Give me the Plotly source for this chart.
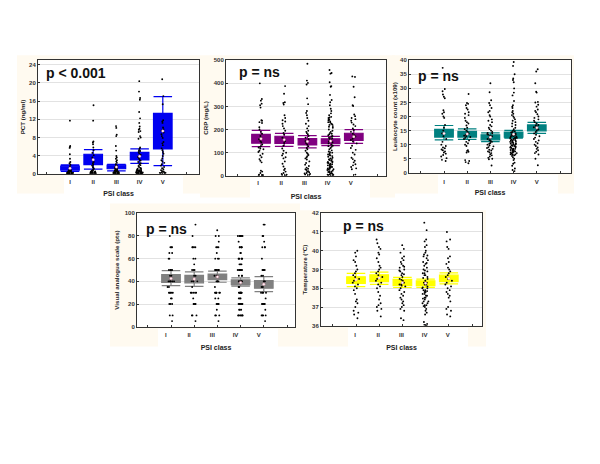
import plotly.graph_objects as go

CLASSES = ['I', 'II', 'III', 'IV', 'V']

# PCT (ng/ml)
pct_i = [11.7, 6.1, 5.9, 5.7, 4.3, 3.3, 2.6, 2.3, 2.0, 1.6, 1.3, 1.1, 1.0, .9, .8, .7, .7, .6, .6, .5, .5, .5, .4, .4,
         .4, .4, .3, .3, .3, .3, .3, .2, .2, .2, .2, .2, .2, .1, .1, .1, .1, .1, .1, .1, .1, .1, .1]
pct_ii = [15.1, 11.7, 7.1, 6.9, 6.5, 5.8, 5.2, 4.6, 4.1, 3.6, 3.2, 2.9, 2.6, 2.3, 2.0, 1.8, 1.5, 1.3, 1.1, .9, .8, .7,
          .6, .5, .5, .4, .4, .3, .3, .3, .2, .2, .2, .2, .1, .1, .1, .1, .1]
pct_iii = [10.5, 10.1, 8.6, 8.3, 6.1, 5.1, 3.9, 3.6, 3.3, 3.0, 2.7, 2.4, 2.1, 1.9, 1.7, 1.6, 1.5, 1.4, 1.3, 1.2, 1.1,
           1.0, .9, .8, .8, .7, .6, .6, .5, .5, .4, .4, .4, .3, .3, .3, .2, .2, .2, .2, .1, .1, .1, .1, .1, .1, .1, .1]
pct_iv = [20.4, 18.1, 16.7, 16.3, 13.6, 12.2, 11.2, 10.4, 9.9, 9.7, 9.4, 9.2, 8.3, 8.0, 7.7, 5.8, 5.5, 5.2, 5.0, 4.8,
          4.5, 4.2, 3.9, 3.7, 3.4, 3.1, 2.9, 2.6, 2.3, 2.1, 1.9, 1.7, 1.5, 1.3, 1.2, 1.1, 1.0, .9, .8, .8, .7, .7, .6,
          .6, .5, .5, .5, .4, .4, .4, .3, .3, .3, .3, .2, .2, .2, .2, .2, .1, .1, .1, .1, .1, .1, .1, .1]
pct_v = [20.8, 17.1, 15.3, 11.8, 11.5, 11.2, 10.2, 9.8, 9.5, 9.1, 8.7, 8.3, 7.9, 7.0, 6.7, 6.3, 5.6, 5.2, 4.8, 4.4,
         3.9, 3.4, 3.0, 2.7, 2.4, 2.1, 1.8, 1.5, 1.2, 1.0, .8, .6, .5, .4, .3, .3, .2, .2, .1, .1]
pct_mean = [1.2, 3.1, 1.5, 3.85, 9.4]
pct_box_low = [0.8, 2.0, 1.1, 3.05, 5.45]
pct_box_high = [1.67, 4.3, 1.9, 4.7, 13.3]
pct_whisker_low = [0.5, 1.0, 0.65, 2.3, 1.8]
pct_whisker_high = [1.95, 5.3, 2.1, 5.5, 17.0]

# CRP (mg/L)
crp_i = [400, 332, 325, 312, 305, 295, 240, 238, 232, 228, 210, 200, 190, 182, 172, 165, 158, 150, 145, 135, 128, 125,
         122, 118, 115, 108, 103, 95, 88, 80, 72, 65, 58, 22, 18, 12, 5, 3, 2, 1]
crp_ii = [388, 355, 318, 315, 308, 262, 250, 240, 235, 225, 215, 205, 195, 185, 178, 165, 160, 155, 150, 142, 130, 118,
          108, 100, 95, 88, 80, 75, 62, 52, 40, 30, 25, 18, 12, 8, 5, 3, 1]
crp_iii = [485, 412, 402, 395, 335, 310, 280, 272, 262, 250, 238, 225, 215, 205, 195, 190, 185, 180, 172, 165, 158,
           150, 142, 135, 128, 120, 115, 108, 100, 95, 90, 85, 80, 75, 70, 62, 55, 48, 42, 35, 30, 28, 25, 20, 18, 15,
           12, 10, 8, 5, 3]
crp_iv = [458, 445, 442, 405, 388, 385, 350, 328, 318, 305, 290, 280, 270, 262, 255, 250, 245, 240, 235, 230, 225, 220,
          215, 208, 200, 195, 190, 185, 180, 175, 170, 165, 160, 155, 150, 145, 140, 135, 130, 125, 120, 115, 110, 105,
          100, 95, 92, 88, 85, 82, 78, 75, 72, 68, 65, 62, 60, 58, 55, 52, 50, 48, 45, 42, 40, 38, 35, 32, 30, 28, 25,
          22, 20, 18, 15, 12, 10, 8, 5, 3, 2, 1, 252, 242, 232, 222, 212, 182, 172, 162, 148, 128, 102, 90, 70, 56, 47,
          36, 27, 16, 6]
crp_v = [430, 428, 385, 340, 305, 302, 265, 258, 250, 245, 238, 230, 222, 215, 205, 198, 190, 182, 175, 170, 165, 160,
         155, 148, 140, 130, 120, 112, 100, 92, 78, 72, 65, 58, 50, 45, 38, 32, 28, 5]
crp_mean = [160, 156, 148, 150, 169]
crp_box_low = [141, 140, 133, 139, 153]
crp_box_high = [179, 171, 161, 160, 184]
crp_whisker_low = [126, 127, 121, 130, 140]
crp_whisker_high = [196, 183, 174, 170, 200]

# Leukocyte count (x109)
wbc_i = [37.3, 29.8, 29, 27.8, 27, 26.5, 22.2, 21.5, 21, 20, 19.5, 17, 16, 15, 14, 13, 12, 11, 10, 9.5, 9, 8.7, 8.3,
         8, 7.6, 7.2, 6.8, 6.3, 5.8, 5.2, 4.6, 4.2]
wbc_ii = [28, 24.8, 24.5, 24, 23, 22.5, 21.5, 21, 20.5, 19.5, 18.5, 18, 17.5, 16.8, 16, 15.5, 15, 14.5, 14, 13.8, 13.5,
          13.2, 13, 12.7, 12.4, 12, 11.5, 11, 10.5, 10, 9.5, 8, 7.8, 7.5, 7.2, 4.5, 4.2, 3.8, 3.4]
wbc_iii = [31.8, 28.6, 25.8, 24.8, 24, 23, 22, 21.5, 20.5, 20, 19, 18.5, 18, 17, 16.5, 16, 15.5, 15, 14.5, 14.2, 14,
           13.8, 13.5, 13.2, 13, 12.5, 12.2, 12, 11.6, 11.3, 11, 10.6, 10.3, 10, 9.7, 9.4, 9.1, 8.8, 8.5, 8.2, 7.9,
           7.6, 7.3, 7, 6.6, 6.2, 5.8, 5.3, 5, 4.8, 2.6]
wbc_iv = [39.4, 38, 35, 33.5, 33, 32.2, 30, 28.5, 27.5, 25.5, 24, 23.5, 23, 22, 21.5, 21, 20.5, 20, 19.5, 19, 18.5,
          18, 17.5, 17, 16.5, 16, 15.5, 15, 14.8, 14.5, 14.3, 14, 13.8, 13.6, 13.4, 13.2, 13, 12.8, 12.6, 12.4, 12.2,
          12, 11.8, 11.6, 11.4, 11.2, 11, 10.8, 10.6, 10.4, 10.2, 10, 9.8, 9.6, 9.4, 9.2, 9, 8.8, 8.6, 8.4, 8.2, 8,
          7.8, 7.6, 7.4, 7.2, 7, 6.8, 6.6, 6.4, 6.2, 6, 5.5, 5, 4.5, 3.6, 3.2, 2.5, 1.5, 1, 0.6, 13.5, 13.1, 12.5,
          12.1, 11.5, 11.1, 10.5, 10.1, 9.5, 9.1, 8.5, 8.1, 7.5, 7.1, 6.5]
wbc_v = [36.8, 36, 31.8, 28.8, 28.5, 25.2, 25, 24.2, 23.5, 22.5, 22, 21.5, 20.8, 20, 19.5, 19, 18.5, 18, 17.5, 17,
         16.8, 16.5, 16.2, 16, 15.7, 15.4, 15, 14.5, 14, 13.5, 13, 12.5, 12, 11.5, 11, 10.5, 10, 9.5, 9, 8.5, 8, 7.5,
         7, 6.5, 5, 2.7]
wbc_mean = [14, 13.8, 12.6, 13.7, 16]
wbc_box_low = [12.7, 12.7, 11.7, 12.7, 14.9]
wbc_box_high = [15.4, 14.7, 13.5, 14.5, 17]
wbc_whisker_low = [11.7, 11.9, 11.1, 12.3, 14]
wbc_whisker_high = [16.8, 15.6, 14.2, 15.1, 17.9]

# Visual analogue scale (pts)
vas_i = [80, 70, 70, 70, 65, 65, 60, 60, 50, 50, 50, 50, 50, 45, 45, 40, 40, 40, 40, 40, 40, 35, 35, 30, 30, 30, 30,
         30, 25, 25, 20, 20, 20, 10, 10, 5]
vas_ii = [90, 80, 70, 70, 70, 70, 60, 60, 55, 50, 50, 50, 45, 45, 40, 40, 40, 40, 35, 30, 30, 30, 30, 30, 25, 20, 20,
          20, 20, 10, 10, 10, 5]
vas_iii = [85, 80, 80, 75, 70, 70, 70, 65, 60, 60, 60, 50, 50, 50, 50, 50, 50, 45, 45, 45, 40, 40, 40, 40, 35, 30, 30,
           30, 30, 30, 30, 25, 25, 20, 20, 20, 20, 15, 10, 10, 10, 5]
vas_iv = [80, 80, 80, 80, 80, 80, 75, 70, 70, 70, 70, 70, 65, 65, 60, 60, 60, 60, 60, 60, 55, 55, 55, 50, 50, 50, 50,
          50, 50, 50, 50, 45, 45, 45, 40, 40, 40, 40, 40, 40, 40, 40, 35, 35, 30, 30, 30, 30, 30, 30, 30, 30, 25, 25,
          25, 20, 20, 20, 20, 20, 20, 20, 15, 15, 15, 10, 10, 10, 10, 10, 10, 10]
vas_v = [90, 90, 80, 80, 75, 70, 70, 70, 60, 50, 50, 50, 50, 50, 45, 45, 40, 40, 40, 35, 35, 30, 30, 30, 30, 25, 20,
         20, 20, 20, 20, 20, 15, 10, 10, 10, 10, 5]
vas_mean = [42.5, 42, 44, 39, 37.5]
vas_box_low = [39, 38.7, 41.6, 37.2, 34]
vas_box_high = [46, 45.3, 46.5, 41.3, 40.7]
vas_whisker_low = [36.3, 35.5, 39.2, 35.8, 31]
vas_whisker_high = [49.4, 48.3, 49, 43, 44.2]

# Temperature
temp_i = [40, 39.9, 39.7, 39.5, 39.4, 39.2, 39, 38.9, 38.8, 38.7, 38.6, 38.5, 38.4, 38.3, 38.2, 38.1, 38, 37.9, 37.7,
          37.4, 37.3, 37.2, 37, 36.8, 36.7, 36.6, 36.4]
temp_ii = [40.6, 40.4, 40.2, 40.1, 39.9, 39.8, 39.6, 39.4, 39.2, 39.1, 39, 38.9, 38.8, 38.7, 38.6, 38.5, 38.4, 38.3,
           38.2, 38.1, 38, 37.8, 37.6, 37.4, 37.2, 37.1, 37, 36.9, 36.8, 36.5]
temp_iii = [40.3, 40.1, 39.9, 39.7, 39.6, 39.5, 39.4, 39.3, 39.2, 39.1, 39, 38.9, 38.8, 38.7, 38.6, 38.5, 38.4, 38.3,
            38.3, 38.2, 38.2, 38.1, 38, 37.9, 37.8, 37.7, 37.6, 37.5, 37.4, 37.3, 37.2, 37.1, 37, 36.9, 36.8, 36.4,
            36.3, 39.15, 38.95, 38.75, 38.45, 38.15]
temp_iv = [41.5, 41.1, 40.6, 40.5, 40.3, 40.2, 40, 39.9, 39.8, 39.7, 39.6, 39.5, 39.4, 39.3, 39.2, 39.1, 39, 38.9,
           38.8, 38.8, 38.7, 38.7, 38.6, 38.5, 38.4, 38.3, 38.3, 38.2, 38.2, 38.1, 38, 38, 37.9, 37.9, 37.8, 37.8,
           37.7, 37.7, 37.6, 37.6, 37.5, 37.5, 37.4, 37.3, 37.3, 37.2, 37.2, 37.1, 37.1, 37, 36.9, 36.8, 36.7, 36.6,
           36.2, 36.1, 36.05, 36, 39.75, 39.35, 38.95, 38.55, 38.05, 37.85, 37.45, 37.05]
temp_v = [41, 40.6, 40.5, 40.2, 40.1, 39.7, 39.6, 39.4, 39.3, 39.1, 39, 38.9, 38.8, 38.7, 38.6, 38.5, 38.4, 38.3, 38.2,
          38.1, 38, 37.9, 37.8, 37.7, 37.6, 37.5, 37.3, 37, 36.9, 36.8, 36.6, 36.5]
temp_mean = [38.45, 38.55, 38.3, 38.27, 38.52]
temp_box_low = [38.26, 38.35, 38.14, 38.14, 38.35]
temp_box_high = [38.61, 38.72, 38.47, 38.4, 38.7]
temp_whisker_low = [38.09, 38.21, 38.04, 38.05, 38.23]
temp_whisker_high = [38.79, 38.86, 38.58, 38.49, 38.82]

WIDTH = 600
HEIGHT = 464
CREAM = '#fffaf0'

panels = [
    dict(points=[pct_i, pct_ii, pct_iii, pct_iv, pct_v], mean=pct_mean, box_low=pct_box_low, box_high=pct_box_high,
         whisker_low=pct_whisker_low, whisker_high=pct_whisker_high, color='#0000f0', title='PCT (ng/ml)',
         yrange=[0, 25], dtick=4, left=38, right=199, top=58, bottom=173, first=70, label_shift=0, label_gap=2,
         title_gap=7, ytitle_gap=2, p_text='p < 0.001', p_x=44, p_y=71, cream=(17, 53, 200, 193),
         gap=(64, 175, 183, 200)),
    dict(points=[crp_i, crp_ii, crp_iii, crp_iv, crp_v], mean=crp_mean, box_low=crp_box_low, box_high=crp_box_high,
         whisker_low=crp_whisker_low, whisker_high=crp_whisker_high, color='#800080', title='CRP (mg/L)',
         yrange=[0, 500], dtick=100, left=226, right=386, top=58, bottom=175, first=261, label_shift=-0.13,
         label_gap=1, title_gap=9, ytitle_gap=4, p_text='p = ns', p_x=237, p_y=70, cream=(200, 53, 395, 197),
         gap=(250, 177, 370, 200)),
    dict(points=[wbc_i, wbc_ii, wbc_iii, wbc_iv, wbc_v], mean=wbc_mean, box_low=wbc_box_low, box_high=wbc_box_high,
         whisker_low=wbc_whisker_low, whisker_high=wbc_whisker_high, color='#008080',
         title='Leukocyte count (x109)', yrange=[0, 40], dtick=5, left=409, right=571, top=58, bottom=172, first=444,
         label_shift=0, label_gap=3, title_gap=6, ytitle_gap=1, p_text='p = ns', p_x=416, p_y=74,
         cream=(392, 53, 574, 193), gap=(438, 174, 558, 200)),
    dict(points=[vas_i, vas_ii, vas_iii, vas_iv, vas_v], mean=vas_mean, box_low=vas_box_low, box_high=vas_box_high,
         whisker_low=vas_whisker_low, whisker_high=vas_whisker_high, color='#808080',
         title='Visual analogue scale (pts)', yrange=[0, 100], dtick=20, left=137, right=295, top=213, bottom=328,
         first=171, label_shift=-0.22, label_gap=2, title_gap=8, ytitle_gap=4, p_text='p = ns', p_x=144, p_y=229,
         cream=(110, 203, 300, 348), gap=(158, 330, 278, 355)),
    dict(points=[temp_i, temp_ii, temp_iii, temp_iv, temp_v], mean=temp_mean, box_low=temp_box_low,
         box_high=temp_box_high, whisker_low=temp_whisker_low, whisker_high=temp_whisker_high, color='#ffff00',
         title='Temperature (°C)', yrange=[36, 42], dtick=1, left=321, right=482, top=213, bottom=327, first=356,
         label_shift=-0.04, label_gap=3, title_gap=8, ytitle_gap=3, p_text='p = ns', p_x=341, p_y=226,
         cream=(300, 210, 486, 348), gap=(348, 329, 468, 355)),
]

fig = go.Figure()
shapes = []
annotations = []
axes = {}
class_positions = list(range(1, len(CLASSES) + 1))
tick_font = dict(family='Liberation Sans', size=6, color='#333333', weight='bold')
xtitle_font = dict(family='Liberation Sans', size=7, color='#222222', weight='bold')
ytitle_font = dict(family='Liberation Sans', size=6.2, color='#222222', weight='bold')

for n, panel in enumerate(panels):
    suffix = '' if n == 0 else str(n + 1)
    spacing = 23.2
    xmin = 1 - (panel['first'] - panel['left']) / spacing
    xmax = 1 + (panel['right'] - panel['first']) / spacing

    for pos, mean, q1, q3, low, high in zip(class_positions, panel['mean'], panel['box_low'], panel['box_high'],
                                            panel['whisker_low'], panel['whisker_high']):
        fig.add_trace(go.Box(x=[pos], q1=[q1], median=[mean], q3=[q3], lowerfence=[low], upperfence=[high],
                             width=0.8, whiskerwidth=1, fillcolor=panel['color'],
                             line=dict(color=panel['color'], width=1.2), xaxis='x' + suffix, yaxis='y' + suffix,
                             showlegend=False))
    for pos, values in zip(class_positions, panel['points']):
        fig.add_trace(go.Box(x=[pos] * len(values), y=values, boxpoints='all', jitter=0.38, pointpos=0, width=0.8,
                             fillcolor='rgba(0,0,0,0)', line=dict(color='rgba(0,0,0,0)', width=0),
                             marker=dict(color='black', size=1.9), xaxis='x' + suffix, yaxis='y' + suffix,
                             showlegend=False))
    fig.add_trace(go.Scatter(x=class_positions, y=panel['mean'], mode='markers',
                             marker=dict(color='white', size=2.5, line=dict(color='#e07090', width=0.4)),
                             xaxis='x' + suffix, yaxis='y' + suffix, showlegend=False))

    axes['xaxis' + suffix] = dict(
        domain=[panel['left'] / WIDTH, panel['right'] / WIDTH], range=[xmin, xmax], anchor='y' + suffix,
        tickmode='array', tickvals=[p + panel['label_shift'] for p in class_positions], ticktext=CLASSES, ticks='',
        ticklabelstandoff=panel['label_gap'], tickfont=tick_font, showgrid=False, zeroline=False, showline=True,
        linecolor='#333333', linewidth=1, mirror=True,
        minor=dict(tickmode='array', tickvals=[0, 1, 2, 3, 4, 5, 6], ticks='inside', ticklen=2, tickcolor='#333333',
                   showgrid=False),
        title=dict(text='PSI class', font=xtitle_font, standoff=panel['title_gap']))
    axes['yaxis' + suffix] = dict(
        domain=[1 - panel['bottom'] / HEIGHT, 1 - panel['top'] / HEIGHT], range=panel['yrange'], anchor='x' + suffix,
        dtick=panel['dtick'], tick0=panel['yrange'][0], ticks='inside', ticklen=2, tickcolor='#333333',
        tickfont=tick_font, showgrid=True, gridcolor='#e2e2e2', gridwidth=1, zeroline=False, showline=True,
        linecolor='#333333', linewidth=1, mirror=True,
        title=dict(text=panel['title'], font=ytitle_font, standoff=panel['ytitle_gap']))

    rects = [(*panel['cream'], CREAM), (*panel['gap'], 'white'),
             (panel['left'], panel['top'], panel['right'], panel['bottom'], 'white')]
    for x0, y0, x1, y1, fill in rects:
        shapes.append(dict(type='rect', xref='paper', yref='paper', x0=x0 / WIDTH, x1=x1 / WIDTH, y0=1 - y0 / HEIGHT,
                           y1=1 - y1 / HEIGHT, fillcolor=fill, line=dict(width=0), layer='below'))
    annotations.append(dict(text=panel['p_text'], xref='paper', yref='paper', x=panel['p_x'] / WIDTH,
                            y=1 - panel['p_y'] / HEIGHT, xanchor='left', yanchor='middle', showarrow=False,
                            font=dict(family='Liberation Sans', size=14, color='#111111', weight='bold')))

fig.update_layout(width=WIDTH, height=HEIGHT, margin=dict(l=0, r=0, t=0, b=0), paper_bgcolor='white',
                  plot_bgcolor='white', boxmode='overlay', showlegend=False, shapes=shapes, annotations=annotations,
                  **axes)

fig.write_html("out.html", config=dict(displayModeBar=False), post_script="document.body.style.margin='0';")
